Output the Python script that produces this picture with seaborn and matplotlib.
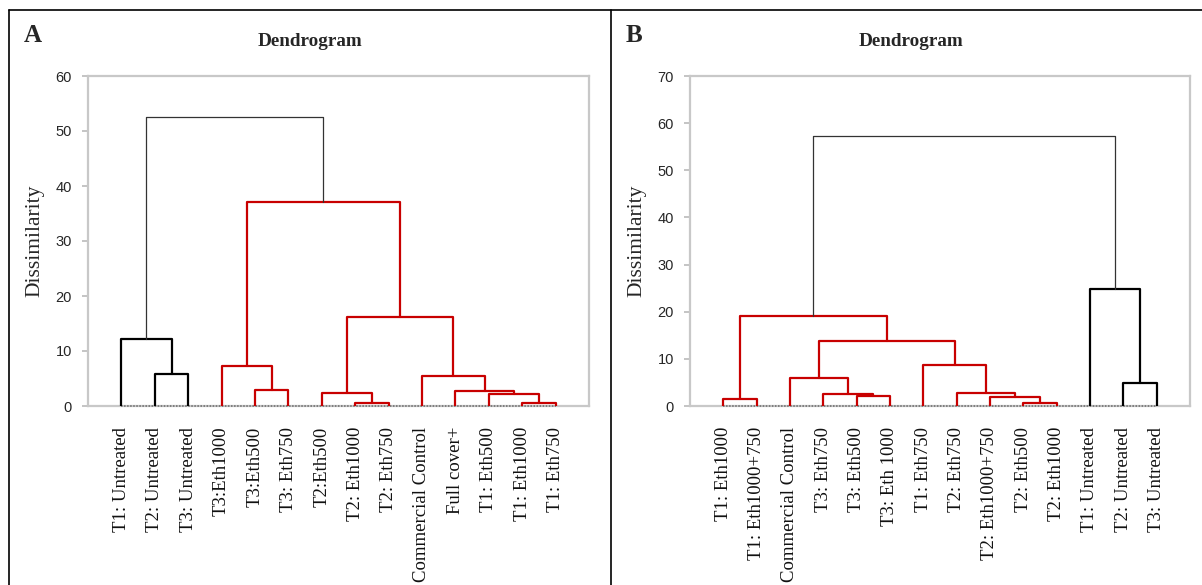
import numpy as np
import pandas as pd
import matplotlib
matplotlib.use("Agg")
import matplotlib.pyplot as plt
from matplotlib.lines import Line2D
import seaborn as sns

# ---------------- data ----------------
labels_A = ["T1: Untreated", "T2: Untreated", "T3: Untreated", "T3:Eth1000", "T3:Eth500",
            "T3: Eth750", "T2:Eth500", "T2: Eth1000", "T2: Eth750", "Commercial Control",
            "Full cover+", "T1: Eth500", "T1: Eth1000", "T1: Eth750"]
# merges: node ids (leaves 0..13, new nodes numbered from 14 in order)
left_A = [1, 0, 4, 3, 7, 6, 12, 11, 10, 9, 19, 17, 15]
right_A = [2, 14, 5, 16, 8, 18, 13, 20, 21, 22, 23, 24, 25]
height_A = [5.9, 12.1, 3.0, 7.3, 0.6, 2.3, 0.5, 2.2, 2.8, 5.4, 16.2, 37.1, 52.6]
group_A = ["black", "black", "red", "red", "red", "red", "red", "red", "red", "red",
           "red", "red", "root"]

labels_B = ["T1: Eth1000", "T1: Eth1000+750", "Commercial Control", "T3: Eth750", "T3: Eth500",
            "T3: Eth 1000", "T1: Eth750", "T2: Eth750", "T2: Eth1000+750", "T2: Eth500",
            "T2: Eth1000", "T1: Untreated", "T2: Untreated", "T3: Untreated"]
left_B = [0, 4, 3, 2, 9, 8, 7, 6, 17, 14, 12, 11, 23]
right_B = [1, 5, 15, 16, 10, 18, 19, 20, 21, 22, 13, 24, 25]
height_B = [1.4, 2.2, 2.5, 5.9, 0.7, 2.0, 2.8, 8.7, 13.7, 19.05, 4.8, 24.8, 57.3]
group_B = ["red", "red", "red", "red", "red", "red", "red", "red", "red", "red",
           "black", "black", "root"]

yticks_A = [0, 10, 20, 30, 40, 50, 60]
yticks_B = [0, 10, 20, 30, 40, 50, 60, 70]

# ---------------- style ----------------
sns.set_theme(style="white")
plt.rcParams["font.family"] = ["Liberation Serif", "DejaVu Serif"]

RED = "#C80000"
palette = {"black": "#000000", "red": RED, "root": "#333333"}
widths = {"black": 1.6, "red": 1.6, "root": 0.9}


def link_frame(labels, left, right, height, group):
    n = len(labels)
    xpos = {i: float(i) for i in range(n)}
    ypos = {i: 0.0 for i in range(n)}
    rows = []
    for k, (a, b, h, g) in enumerate(zip(left, right, height, group)):
        node = n + k
        pts = [(xpos[a], ypos[a]), (xpos[a], h), (xpos[b], h), (xpos[b], ypos[b])]
        for j, (x, y) in enumerate(pts):
            rows.append({"link": k, "order": j, "x": x, "y": y, "group": g})
        xpos[node] = (xpos[a] + xpos[b]) / 2.0
        ypos[node] = h
    return pd.DataFrame(rows)


W, H = 1202, 585
fig = plt.figure(figsize=(W / 100, H / 100), dpi=100)


def px_axes(l, t, r, b):
    return fig.add_axes([l / W, 1 - b / H, (r - l) / W, (b - t) / H])


def draw(ax, labels, left, right, height, group, yticks):
    df = link_frame(labels, left, right, height, group)
    n = len(labels)
    for g in ["black", "red", "root"]:
        sub = df[df["group"] == g]
        sns.lineplot(data=sub, x="x", y="y", units="link", estimator=None, sort=False,
                     color=palette[g], lw=widths[g], ax=ax, legend=False, zorder=3)
    ax.plot([0, n - 1], [0, 0], ls=(0, (1, 1)), color="#6A6A6A", lw=1.1,
            zorder=2.7, clip_on=False)
    ax.set_xlim(-1, n)
    ax.set_ylim(yticks[0], yticks[-1])
    ax.set_yticks(yticks)
    ax.set_yticklabels([str(v) for v in yticks], fontfamily="Liberation Sans",
                       fontsize=10.5, color="#262626")
    ax.set_xticks(range(n))
    ax.set_xticklabels(labels, rotation=90, fontsize=13.5, color="#111111")
    ax.tick_params(axis="x", length=0, pad=15)
    ax.tick_params(axis="y", left=True, length=4.5, width=1.3, color="#BFBFBF",
                   pad=7, direction="out")
    for s in ax.spines.values():
        s.set_color("#C8C8C8")
        s.set_linewidth(1.6)
    ax.set_xlabel("")
    ax.set_ylabel("Dissimilarity", fontsize=15.5, labelpad=8)


axA = px_axes(88, 76, 589, 406)
draw(axA, labels_A, left_A, right_A, height_A, group_A, yticks_A)
axB = px_axes(690, 76, 1190, 406)
draw(axB, labels_B, left_B, right_B, height_B, group_B, yticks_B)

# panel labels and titles
fig.text(24 / W, 1 - 42 / H, "A", fontsize=18, fontweight="bold", ha="left", va="baseline")
fig.text(626 / W, 1 - 42 / H, "B", fontsize=18, fontweight="bold", ha="left", va="baseline")
fig.text(310 / W, 1 - 46 / H, "Dendrogram", fontsize=13.8, fontweight="bold",
         ha="center", va="baseline")
fig.text(911 / W, 1 - 46 / H, "Dendrogram", fontsize=13.8, fontweight="bold",
         ha="center", va="baseline")

# outer frame lines
fig.add_artist(Line2D([9 / W, 1.0], [1 - 10 / H, 1 - 10 / H], color="black", lw=1.2,
                      transform=fig.transFigure))
fig.add_artist(Line2D([9 / W, 9 / W], [0, 1 - 10 / H], color="black", lw=1.2,
                      transform=fig.transFigure))
fig.add_artist(Line2D([611 / W, 611 / W], [0, 1 - 10 / H], color="black", lw=1.2,
                      transform=fig.transFigure))

fig.savefig("out.png", dpi=100, facecolor="white")
